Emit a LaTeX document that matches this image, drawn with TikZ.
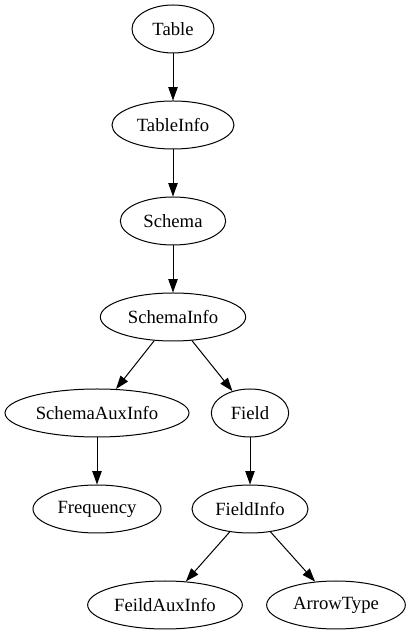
\documentclass[tikz,border=0pt]{standalone}
\usepackage{fontspec}
\setmainfont{Liberation Serif}
\usetikzlibrary{shapes.geometric,arrows.meta}
\tikzset{
OBJ/.style ={ellipse,draw=black,line width=0.75pt,inner sep=0pt,minimum height=36pt,minimum width=#1,font=\fontsize{14}{16}\selectfont},
OBJ/.default = 80pt,
EDGE/.style ={draw=black,line width=0.75pt,-{Triangle[length=10pt,width=7pt]}},
}
\begin{document}
\begin{tikzpicture}
[x=0.75pt,y=0.75pt]
	\useasboundingbox (0,0) rectangle (411,635); %page
	%Chain
	\node[OBJ=61.5pt] (table) at (173,606) {Table};
	\node[OBJ=91.5pt] (tableinfo) at (173,510) {TableInfo};
	\node[OBJ=79pt] (schema) at (173,414) {Schema};
	\node[OBJ=109pt] (schemainfo) at (173,318) {SchemaInfo};
	%Branches
	\node[OBJ=138pt] (schemaaux) at (97,222) {SchemaAuxInfo};
	\node[OBJ=58pt] (field) at (250,222) {Field};
	\node[OBJ=96pt] (frequency) at (97,126) {Frequency};
	\node[OBJ=87pt] (fieldinfo) at (250,126) {FieldInfo};
	\node[OBJ=116pt] (fieldaux) at (165,30) {FeildAuxInfo};
	\node[OBJ=104pt] (arrowtype) at (336,30) {ArrowType};
	%Edges
	\path[EDGE] (table) -- (tableinfo);
	\path[EDGE] (tableinfo) -- (schema);
	\path[EDGE] (schema) -- (schemainfo);
	\path[EDGE] (schemainfo) -- (schemaaux);
	\path[EDGE] (schemainfo) -- (field);
	\path[EDGE] (schemaaux) -- (frequency);
	\path[EDGE] (field) -- (fieldinfo);
	\path[EDGE] (fieldinfo) -- (fieldaux);
	\path[EDGE] (fieldinfo) -- (arrowtype);
\end{tikzpicture}
\end{document}
